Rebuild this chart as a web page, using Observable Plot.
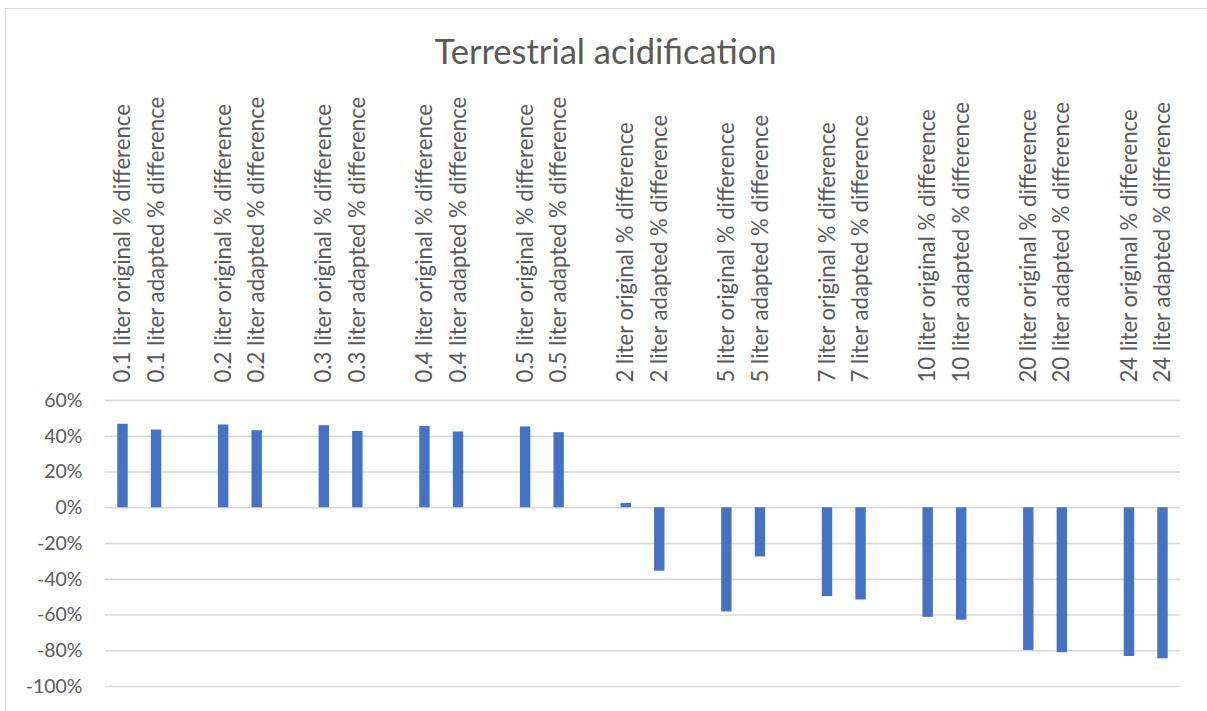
<!DOCTYPE html>
<html>
<head>
<meta charset="utf-8">
<script src="https://cdn.jsdelivr.net/npm/d3@7"></script>
<script src="https://cdn.jsdelivr.net/npm/@observablehq/plot@0.6"></script>
<style>
  html, body { margin: 0; padding: 0; background: #ffffff; }
  #wrap { position: relative; width: 1207px; height: 711px; overflow: hidden; }
  #border {
    position: absolute; left: 5px; top: 8px; width: 1230px; height: 740px;
    border: 1px solid #d9d9d9; pointer-events: none;
  }
</style>
</head>
<body>
<div id="wrap"><div id="border"></div></div>
<script>
// Bottle sizes (liters) and the two % difference series per size
const sizes = ["0.1", "0.2", "0.3", "0.4", "0.5", "2", "5", "7", "10", "20", "24"];
const originalDiff = [46.7, 46.3, 45.9, 45.5, 45.2, 2.4, -58.3, -49.7, -61.3, -79.8, -83.2];
const adaptedDiff = [43.5, 43.1, 42.7, 42.4, 42.0, -35.5, -27.5, -51.6, -62.9, -81.1, -84.5];
const yTicks = [-100, -80, -60, -40, -20, 0, 20, 40, 60];
const chartTitle = "Terrestrial acidification";

// One row per bar; an empty slot separates each size pair
const rows = [];
const domain = [];
sizes.forEach((s, i) => {
  const o = `${s} liter original % difference`;
  const a = `${s} liter adapted % difference`;
  rows.push({key: o, value: originalDiff[i]});
  rows.push({key: a, value: adaptedDiff[i]});
  domain.push(o, a);
  if (i < sizes.length - 1) domain.push(`gap-${i}`);
});

const textColor = "#595959";

const chart = Plot.plot({
  width: 1207,
  height: 711,
  marginLeft: 105,
  marginRight: 27,
  marginTop: 400,
  marginBottom: 25,
  style: {fontFamily: "Lato, sans-serif", color: textColor, background: "transparent"},
  x: {domain, paddingInner: 0.69, paddingOuter: 0.367, align: 0.5, round: false, axis: null},
  y: {domain: [-100, 60], axis: null},
  marks: [
    Plot.ruleY(yTicks, {stroke: "#d9d9d9", strokeWidth: 1.4}),
    Plot.barY(rows, {x: "key", y: "value", fill: "#4472C4"}),
    Plot.axisY({
      ticks: yTicks,
      tickSize: 0,
      tickPadding: 23,
      tickFormat: d => d + "%",
      fontSize: 19.5,
      fill: textColor,
      label: null
    }),
    Plot.text(rows, {
      x: "key",
      y: () => 60,
      text: "key",
      rotate: -90,
      textAnchor: "start",
      lineAnchor: "middle",
      dy: -18,
      fontSize: 22.2,
      fill: textColor
    }),
    Plot.text([chartTitle], {
      frameAnchor: "top",
      dx: 605 - (105 + 1180) / 2,
      dy: 52 - 400,
      lineAnchor: "middle",
      fontSize: 34.5,
      fill: textColor
    })
  ]
});

document.getElementById("wrap").prepend(chart);
</script>
</body>
</html>
